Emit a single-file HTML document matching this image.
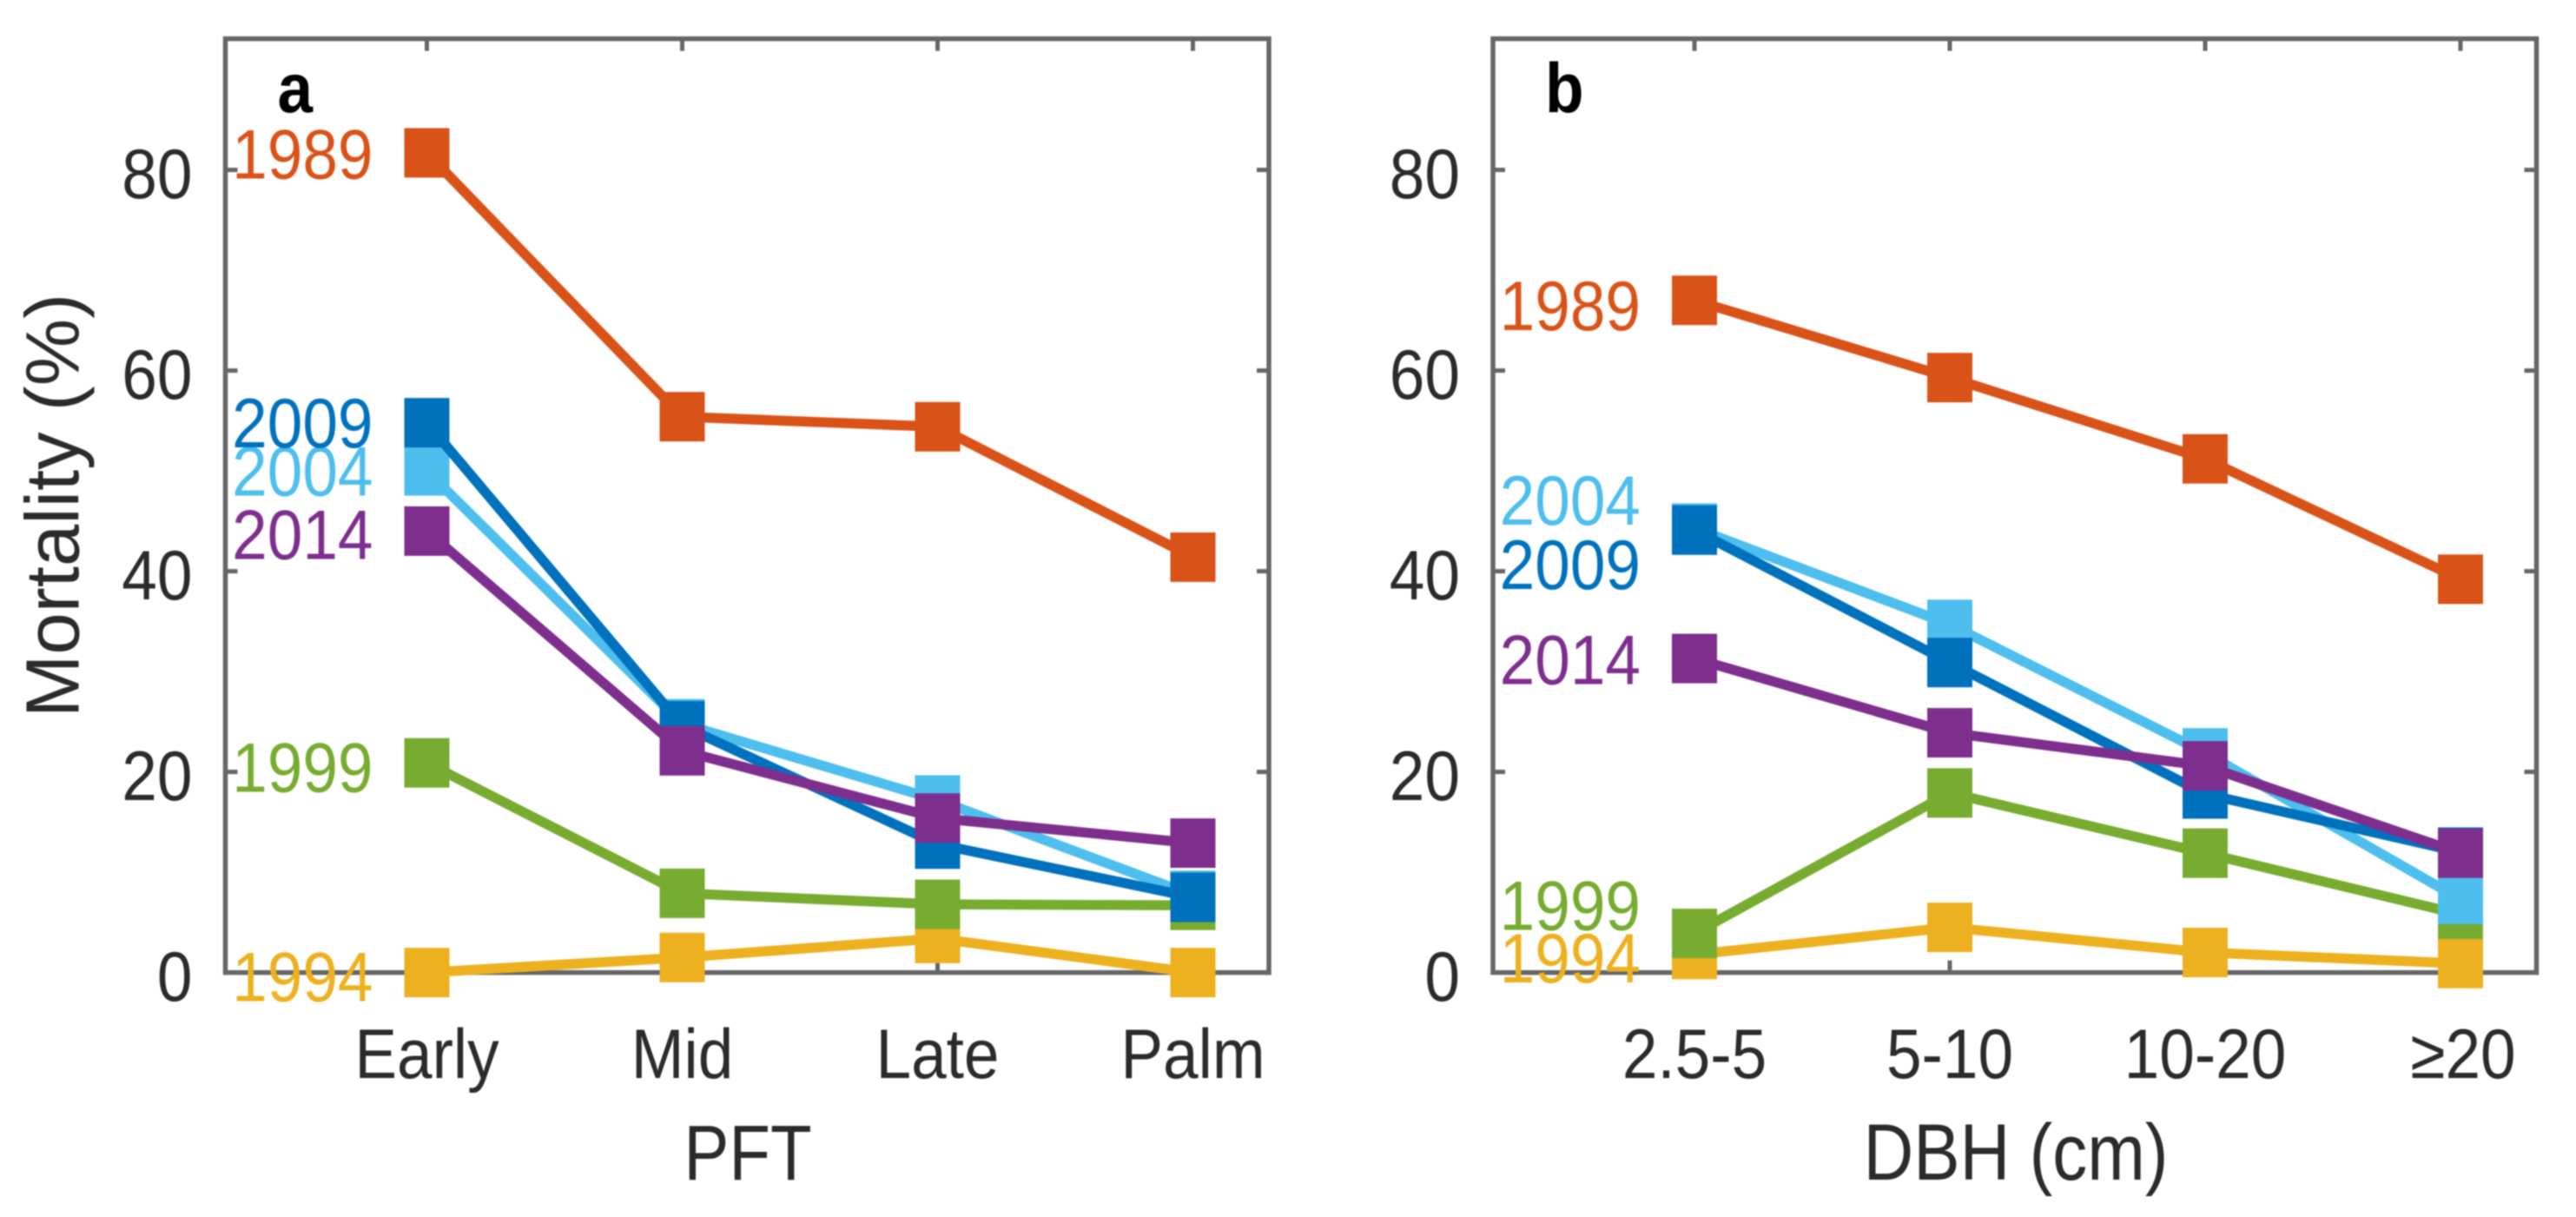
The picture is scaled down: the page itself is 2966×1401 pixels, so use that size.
<!DOCTYPE html>
<html lang="en">
<head>
<meta charset="utf-8">
<title>Mortality by PFT and DBH</title>
<style>
html,body{margin:0;padding:0;background:#fff;width:2966px;height:1401px;overflow:hidden}
svg{display:block;font-family:"Liberation Sans",Arial,sans-serif;filter:blur(0.7px)}
</style>
</head>
<body>
<svg id="figure" xmlns="http://www.w3.org/2000/svg" width="2966" height="1401" viewBox="0 0 2966 1401"></svg>
<script>
// ---- data ----
const years = ['1989', '1994', '1999', '2004', '2009', '2014'];
const yTicks = [0, 20, 40, 60, 80];
const yTickLabels = ['0', '20', '40', '60', '80'];
const pftCategories = ['Early', 'Mid', 'Late', 'Palm'];
const dbhCategories = ['2.5-5', '5-10', '10-20', '\u226520'];

const pft1989 = [81.7, 55.4, 54.4, 41.4];
const pft1994 = [0, 1.5, 3.4, 0];
const pft1999 = [20.9, 7.9, 6.8, 6.7];
const pft2004 = [50, 24.8, 17.2, 7.7];
const pft2009 = [54.8, 24.6, 12.8, 7.5];
const pft2014 = [44, 22.1, 15.4, 12.9];

const dbh1989 = [67, 59.3, 51.2, 39.2];
const dbh1994 = [1.8, 4.5, 2, 0.9];
const dbh1999 = [3.9, 17.9, 11.9, 5.8];
const dbh2004 = [44.3, 34.7, 21.9, 7.3];
const dbh2009 = [44.1, 30.9, 17.8, 12];
const dbh2014 = [31.3, 23.9, 20.6, 11.9];

// value on the y axis at which each year's annotation is centred
const pftLabelValues = [81.6, -0.4, 20.5, 50, 54.8, 43.7];
const dbhLabelValues = [66.5, 1.5, 6.7, 47.1, 40.7, 31.2];

// ---- styling ----
const colors = {'1989':'#D95319','1994':'#EDB120','1999':'#77AC30','2004':'#4DBEEE','2009':'#0072BD','2014':'#7E2F8E'};
const INK = '#2b2b2b', AXIS = '#666666';
const FS = 73, SY = 1.1;
const svg = document.getElementById('figure');
const NS = 'http://www.w3.org/2000/svg';

function make(tag, parent, attrs) {
  const el = document.createElementNS(NS, tag);
  for (const k in attrs) el.setAttribute(k, attrs[k]);
  parent.appendChild(el);
  return el;
}
function makeText(parent, x, y, str, anchor, size, sy, fill, weight) {
  const el = make('text', parent, {
    transform: 'translate(' + x + ' ' + y + ') scale(1 ' + sy + ')',
    'text-anchor': anchor, 'font-size': size, fill: fill, 'font-weight': weight || 'normal'
  });
  el.textContent = str;
  return el;
}

function drawPanel(p) {
  const left = p.left, right = p.left + 1201.5, top = 44.6, bottom = 1119.6;
  const xScale = i => left + 232 + i * 294;
  const yScale = v => bottom - v * 11.55;

  const panel = make('g', svg, {});
  
  

  const frame = make('rect', panel, {x:left, y:top, width:right-left, height:bottom-top, fill:'none', stroke:AXIS, 'stroke-width':5.5});
  
  

  yTicks.forEach((t, i) => {
    const y = yScale(t);
    if (t !== 0) {
      const tl = make('line', panel, {x1:left, x2:left+14, y1:y, y2:y, stroke:AXIS, 'stroke-width':5});
      
      
      const tr = make('line', panel, {x1:right, x2:right-14, y1:y, y2:y, stroke:AXIS, 'stroke-width':5});
      
      
    }
    const lab = makeText(panel, left - 38, y + 32.5, yTickLabels[i], 'end', FS, SY, INK);
    
    
  });

  p.categories.forEach((c, i) => {
    const x = xScale(i);
    const t1 = make('line', panel, {x1:x, x2:x, y1:top, y2:top+14, stroke:AXIS, 'stroke-width':5});
    
    
    const t2 = make('line', panel, {x1:x, x2:x, y1:bottom, y2:bottom-14, stroke:AXIS, 'stroke-width':5});
    
    
    const lab = makeText(panel, x + (c.charAt(0) === '\u2265' ? 3 : 0), 1241, c, 'middle', FS, SY, INK);
    
    
  });

  years.forEach((yr, s) => {
    const vals = p.series[s];
    const g = make('g', panel, {});
    
    
    const pts = vals.map((v, i) => xScale(i) + ',' + yScale(v)).join(' ');
    const line = make('polyline', g, {points:pts, fill:'none', stroke:colors[yr], 'stroke-width':11.5, 'stroke-linejoin':'round'});
    
    
    vals.forEach((v, i) => {
      const m = make('rect', g, {x:xScale(i)-26, y:yScale(v)-28.5, width:52, height:57, fill:colors[yr]});
      
      
    });
  });

  years.forEach((yr, s) => {
    const lab = makeText(panel, left + 170, yScale(p.labelValues[s]) + 28.5, yr, 'end', FS, SY, colors[yr]);
    
    
  });

  const letter = makeText(panel, left + 60, 129, p.letter, 'start', 73, 1.1, '#000000', 'bold');
  
  

  const xt = makeText(panel, p.xTitleX, 1358, p.xTitle, 'middle', p.xTitleSize, 1.15, INK);
  
  
}

drawPanel({
  id:'pft', letter:'a', left:259.5, categories:pftCategories, xTitle:'PFT', xTitleX:861, xTitleSize:78,
  series:[pft1989, pft1994, pft1999, pft2004, pft2009, pft2014], labelValues:pftLabelValues
});
drawPanel({
  id:'dbh', letter:'b', left:1719, categories:dbhCategories, xTitle:'DBH (cm)', xTitleX:2321, xTitleSize:80,
  series:[dbh1989, dbh1994, dbh1999, dbh2004, dbh2009, dbh2014], labelValues:dbhLabelValues
});

const yTitle = make('text', svg, {transform:'translate(90.6 582) rotate(-90)', 'text-anchor':'middle', 'font-size':87, fill:INK});
yTitle.textContent = 'Mortality (%)';


</script>
</body>
</html>
